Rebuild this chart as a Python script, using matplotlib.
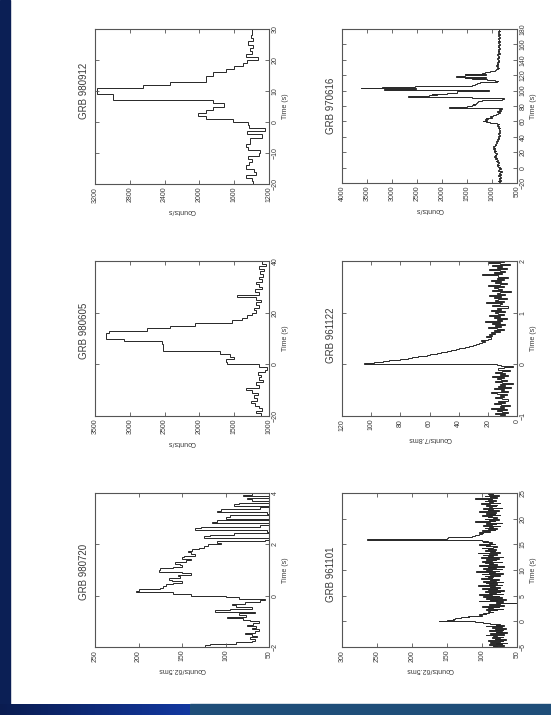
import numpy as np
import matplotlib.pyplot as plt
from matplotlib.patches import Rectangle
from matplotlib.colors import LinearSegmentedColormap

plt.rcParams['font.family'] = ['Liberation Sans', 'DejaVu Sans']

W, H = 551, 715

# ---- light curves (counts per bin) ----
# GRB 980912, 1 s bins
t_980912 = np.arange(-20, 31, 1)
c_980912 = [1380, 1400, 1470, 1350, 1370, 1470, 1430, 1400, 1440, 1320,
            1300, 1440, 1460, 1420, 1420, 1280, 1450, 1250, 1430, 1440,
            1610, 1925, 2015, 1920, 1840, 1720, 1840, 2990, 2990, 3180,
            3180, 2645, 2340, 1920, 1920, 1840, 1700, 1600, 1500, 1450,
            1330, 1460, 1400, 1420, 1380, 1440, 1380, 1410, 1390, 1400]

# GRB 980605, 1 s bins
t_980605 = np.arange(-20, 41, 1)
c_980605 = [1120, 1180, 1100, 1150, 1200, 1260, 1170, 1220, 1160, 1250,
            1330, 1140, 1180, 1080, 1150, 1110, 1160, 1060, 1030, 1140,
            1600, 1620, 1500, 1560, 1700, 2520, 2520, 2530, 2540, 3090,
            3340, 3340, 3300, 2750, 2420, 2060, 1530, 1390, 1310, 1240,
            1180, 1220, 1150, 1190, 1120, 1180, 1460, 1150, 1200, 1100,
            1150, 1180, 1100, 1140, 1080, 1130, 1070, 1150, 1040, 1100]

# GRB 980720, 62.5 ms bins
t_980720 = np.arange(-2, 4.001, 0.0625)
c_980720 = [123, 118, 88, 70, 66, 72, 64, 70, 78, 66, 62, 70, 65, 75, 68, 62,
            72, 80, 98, 76, 84, 66, 112, 95, 70, 88, 92, 78, 60, 55, 85, 100,
            140, 160, 203, 200, 175, 172, 168, 160, 150, 162, 165, 152, 155, 140, 150, 176,
            175, 160, 150, 152, 158, 145, 140, 150, 148, 135, 140, 143, 138, 130, 125, 120,
            105, 110, 55, 50, 125, 118, 90, 50, 52, 135, 128, 60, 50, 115, 110, 50,
            100, 95, 50, 52, 110, 105, 60, 50, 90, 85, 50, 70, 75, 50, 80, 70]

# GRB 970616, 1 s bins
t_970616 = np.arange(-20, 181, 1)
c_970616 = [870, 850, 880, 830, 860, 840, 870, 820, 850, 880,
            860, 830, 870, 840, 810, 850, 880, 860, 830, 870,
            850, 880, 900, 870, 910, 880, 860, 900, 920, 890,
            910, 940, 900, 930, 960, 920, 950, 930, 900, 940,
            960, 930, 970, 950, 980, 940, 960, 990, 950, 930,
            950, 920, 900, 930, 910, 880, 900, 870, 890, 860,
            880, 850, 870, 860, 880, 850, 870, 860, 840, 870,
            860, 850, 880, 870, 900, 880, 860, 900, 1050, 1120,
            1190, 1100, 1150, 1080, 1120, 1000, 1040, 980, 930, 900,
            880, 850, 900, 830, 820, 860, 800, 900, 1870, 1500,
            1400, 1350, 1380, 1330, 1300, 1280, 1250, 1200, 800, 760,
            1150, 1400, 2680, 2270, 2100, 2200, 1900, 1700, 1700, 1150,
            1070, 3170, 2530, 3630, 3200, 2550, 1400, 1350, 1330, 1300,
            1250, 900, 880, 950, 1100, 1400, 1550, 1130, 1720, 1550,
            1130, 1550, 1200, 1150, 1050, 1000, 950, 920, 880, 870,
            900, 880, 920, 890, 910, 880, 900, 870, 890, 860,
            880, 900, 870, 890, 860, 880, 900, 870, 850, 880,
            870, 890, 860, 880, 850, 870, 890, 860, 880, 850,
            870, 860, 890, 850, 880, 860, 870, 890, 850, 870,
            860, 880, 850, 870, 890, 860, 880, 850, 870, 860]

# GRB 961122, 20 ms bins
t_961122 = np.linspace(-1, 2, 151)
c_961122 = [12, 8, 15, 6, 10, 14, 7, 18, 9, 12,
            5, 11, 16, 8, 13, 6, 10, 15, 9, 12,
            7, 14, 18, 6, 11, 9, 16, 4, 13, 8,
            12, 3, 10, 15, 7, 11, 14, 9, 17, 6,
            12, 8, 15, 10, 5, 13, 9, 3, 11, 14,
            105, 98, 92, 88, 80, 75, 72, 68, 62, 60,
            55, 52, 48, 45, 42, 40, 36, 33, 30, 28,
            26, 24, 22, 25, 20, 18, 21, 17, 19, 15,
            18, 12, 16, 9, 14, 20, 11, 15, 8, 17,
            12, 22, 10, 14, 7, 16, 12, 19, 9, 13,
            15, 8, 18, 11, 14, 6, 17, 12, 10, 21,
            9, 15, 13, 7, 16, 11, 19, 8, 14, 12,
            4, 17, 10, 13, 16, 9, 20, 12, 7, 15,
            11, 18, 9, 14, 6, 13, 24, 10, 16, 8,
            12, 19, 7, 14, 10, 17, 5, 12, 20, 9]

# GRB 961101, 125 ms bins
t_961101 = np.arange(-5, 25.001, 0.125)
c_961101 = [78, 85, 68, 90, 72, 80, 65, 88, 75, 70,
            92, 66, 82, 74, 86, 70, 78, 84, 95, 68,
            76, 88, 64, 80, 72, 90, 70, 82, 66, 78,
            86, 72, 94, 68, 80, 74, 88, 90, 98, 110,
            162, 150, 140, 142, 138, 130, 118, 120, 112, 100, 105, 95, 98, 90, 85, 92,
            88, 78, 95, 70, 85, 92, 76, 100, 68, 84,
            90, 74, 52, 80, 70, 105, 78, 88, 66, 94,
            82, 72, 98, 76, 86, 104, 70, 90, 80, 75,
            96, 84, 68, 92, 78, 100, 74, 88, 82, 106,
            72, 90, 78, 95, 84, 70, 98, 80, 88, 76,
            102, 86, 92, 84, 96, 74, 88, 100, 70, 90,
            82, 108, 76, 94, 86, 72, 98, 80, 92, 68,
            88, 104, 78, 90, 84, 96, 72, 100, 86, 80,
            94, 76, 88, 102, 70, 92, 84, 98, 78, 90,
            106, 74, 88, 82, 96, 80, 92, 86, 100, 84,
            78, 94, 88, 104, 82, 90, 86, 98, 92, 100,
            110, 265, 200, 150, 148, 140, 115, 110, 108, 104, 100, 98, 105, 95,
            88, 100, 82, 92, 78, 96, 84, 90, 75, 98,
            86, 80, 94, 72, 88, 110, 82, 90, 76, 96,
            84, 78, 92, 86, 100, 74, 90, 82, 95, 80,
            88, 104, 76, 92, 84, 98, 72, 90, 86, 80,
            94, 78, 88, 102, 74, 90, 84, 96, 80, 92,
            86, 110, 78, 88, 82, 96, 76, 90, 84, 92]

panels = [
    # title, time edges, counts, counts range (left, right), counts ticks, time ticks, label, box (x0, y0, x1, y1), title pos
    ("GRB 980912", t_980912, c_980912, (3200, 1200), [3200, 2800, 2400, 2000, 1600, 1200],
     [-20, -10, 0, 10, 20, 30], "Counts/s", (95, 29, 269, 184), 0.60),
    ("GRB 980605", t_980605, c_980605, (3500, 1000), [3500, 3000, 2500, 2000, 1500, 1000],
     [-20, 0, 20, 40], "Counts/s", (95, 261, 269, 416), 0.55),
    ("GRB 980720", t_980720, c_980720, (250, 50), [250, 200, 150, 100, 50],
     [-2, 0, 2, 4], "Counts/62.5ms", (95, 493, 269, 647), 0.49),
    ("GRB 970616", t_970616, c_970616, (4000, 500), [4000, 3500, 3000, 2500, 2000, 1500, 1000, 500],
     list(range(-20, 181, 20)), "Counts/s", (342, 29, 517, 183), 0.50),
    ("GRB 961122", t_961122, c_961122, (120, 0), [120, 100, 80, 60, 40, 20, 0],
     [-1, 0, 1, 2], "Counts/7.8ms", (342, 261, 517, 416), 0.52),
    ("GRB 961101", t_961101, c_961101, (300, 50), [300, 250, 200, 150, 100, 50],
     [-5, 0, 5, 10, 15, 20, 25], "Counts/62.5ms", (342, 493, 517, 647), 0.47),
]

fig = plt.figure(figsize=(W / 100, H / 100), dpi=100)
fig.patch.set_facecolor('white')

# slide decoration: dark strip on the left, banded strip at the bottom
fig.add_artist(Rectangle((0, 0), 10 / W, 1, transform=fig.transFigure, color='#0b1f55', zorder=0))
grad = np.linspace(0, 1, 256).reshape(1, -1)
gax = fig.add_axes([0, 0, 190 / W, 11 / H])
gax.imshow(grad, aspect='auto', cmap=LinearSegmentedColormap.from_list('band', ['#0a1c50', '#1238a0']))
gax.axis('off')
fig.add_artist(Rectangle((190 / W, 0), 1 - 190 / W, 11 / H, transform=fig.transFigure,
                         color='#1f4e79', zorder=0))

ink = '#262626'
txt = '#3a3a3a'
for name, edges, counts, crange, cticks, tticks, clabel, box, tpos in panels:
    x0, y0, x1, y1 = box
    ax = fig.add_axes([x0 / W, 1 - y1 / H, (x1 - x0) / W, (y1 - y0) / H])
    ax.stairs(counts, edges, orientation='horizontal', baseline=None, color=ink, lw=0.7)
    ax.set_xlim(crange[0], crange[1])
    ax.set_ylim(edges[0], edges[-1])
    ax.set_xticks(cticks)
    ax.set_yticks(tticks)
    ax.set_xticklabels([str(v) for v in cticks])
    ax.set_yticklabels([str(v).replace('-', '\u2212') for v in tticks])
    ax.tick_params(direction='in', length=3, width=0.6, color='#555555',
                   top=True, bottom=True, left=True, right=True,
                   labelleft=False, labelright=True, labelsize=5,
                   labelcolor=txt, pad=2)
    ax.tick_params(axis='x', labelrotation=90)
    ax.tick_params(axis='y', labelrotation=90)
    for lab in ax.get_yticklabels():
        lab.set_va('center')
    for s in ax.spines.values():
        s.set_color('#555555')
        s.set_linewidth(0.8)
    ax.set_xlabel(clabel, rotation=180, fontsize=5, color=txt, labelpad=3)
    ax.yaxis.set_label_position('right')
    ax.set_ylabel('Time (s)', rotation=90, fontsize=5, color=txt, labelpad=2)
    ax.text(-0.035, tpos, name, rotation=90, ha='right', va='center',
            transform=ax.transAxes, fontsize=7, color=txt)

fig.savefig('out.png', dpi=100, facecolor='white')
